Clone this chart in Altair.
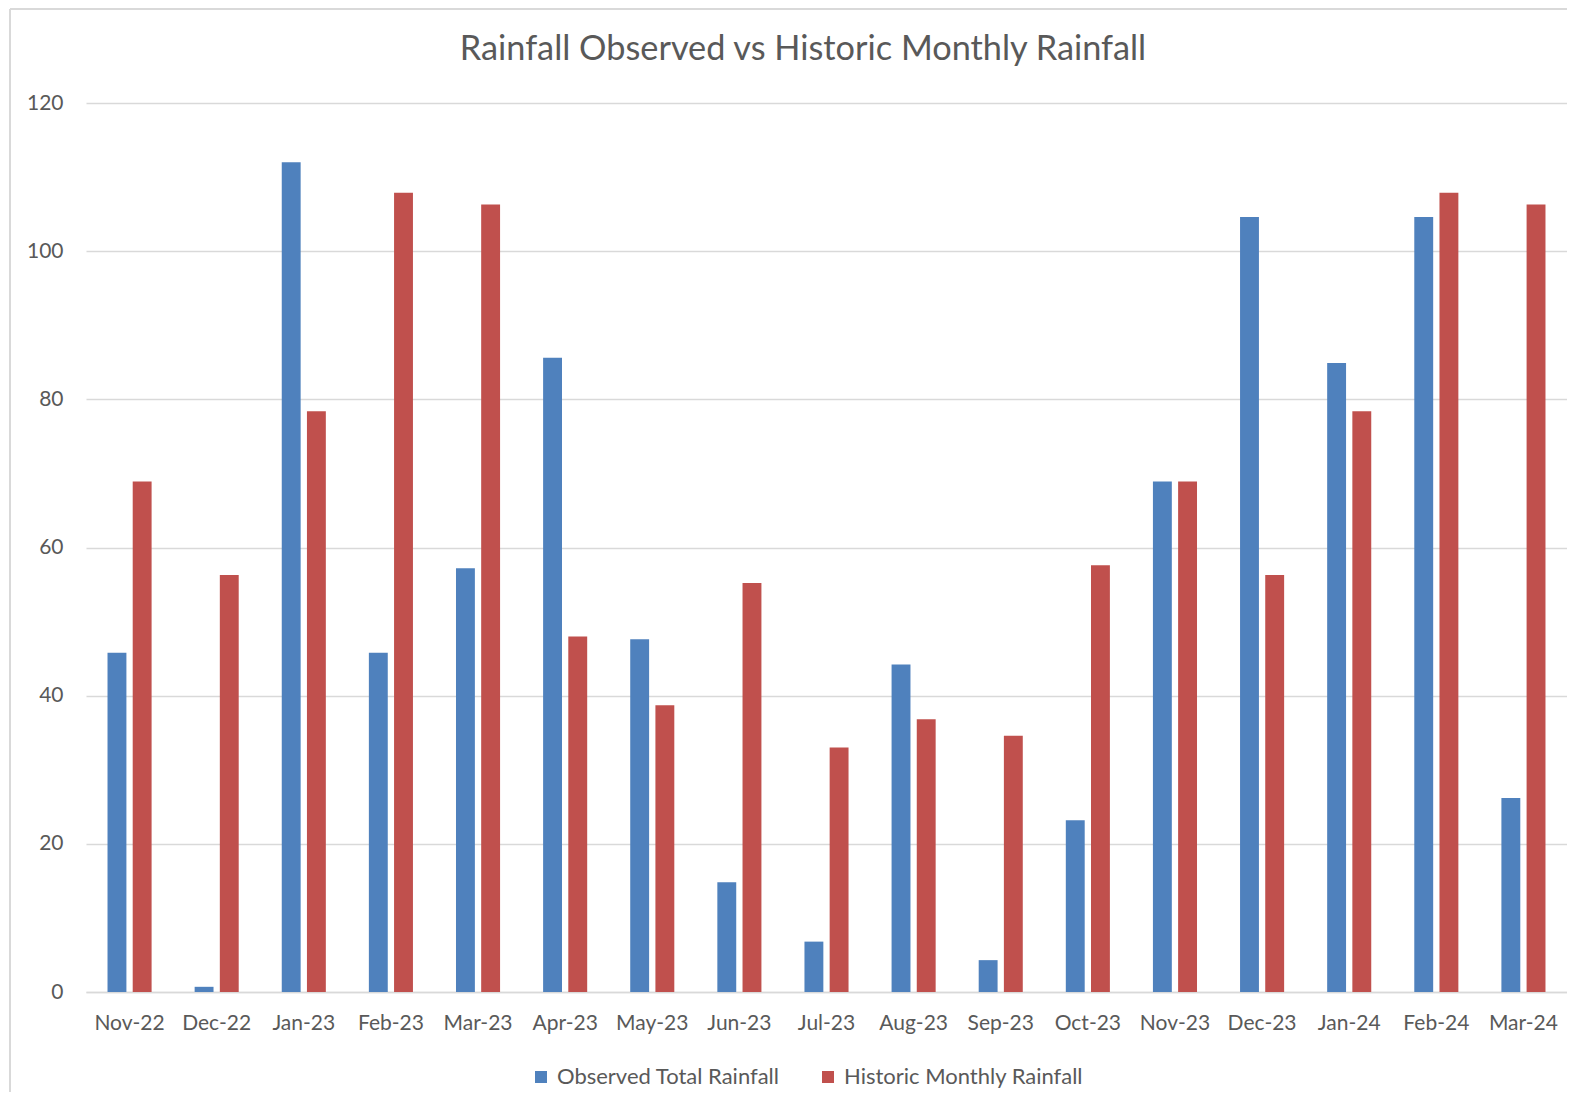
import altair as alt
import pandas as pd

months = ["Nov-22", "Dec-22", "Jan-23", "Feb-23", "Mar-23", "Apr-23", "May-23", "Jun-23",
          "Jul-23", "Aug-23", "Sep-23", "Oct-23", "Nov-23", "Dec-23", "Jan-24", "Feb-24", "Mar-24"]
observed = [45.8, 0.7, 112.0, 45.8, 57.2, 85.6, 47.6, 14.8, 6.8, 44.2, 4.3, 23.2, 68.9, 104.6, 84.9, 104.6, 26.2]
historic = [68.9, 56.3, 78.4, 107.9, 106.3, 48.0, 38.7, 55.2, 33.0, 36.8, 34.6, 57.6, 68.9, 56.3, 78.4, 107.9, 106.3]
series = ["Observed Total Rainfall", "Historic Monthly Rainfall"]
colors = ["#4F81BD", "#C0504D"]
title_text = ["Rainfall Observed vs Historic Monthly Rainfall"]

rows = []
for m, o, h in zip(months, observed, historic):
    rows.append({"Month": m, "Series": series[0], "Value": o})
    rows.append({"Month": m, "Series": series[1], "Value": h})
df = pd.DataFrame(rows)

FONT = "Lato"
TXT = "#595959"
GRID = "#D9D9D9"

bars = alt.Chart(df).mark_bar().encode(
    x=alt.X("Month:N", sort=months,
            scale=alt.Scale(paddingInner=0.494, paddingOuter=0.247),
            axis=alt.Axis(title=None, labelAngle=0, ticks=False, domainColor=GRID,
                          domainWidth=1.5, labelFontSize=21, labelColor=TXT,
                          labelFont=FONT, labelPadding=20, grid=False)),
    xOffset=alt.XOffset("Series:N", sort=series,
                        scale=alt.Scale(paddingInner=0.25, paddingOuter=0)),
    y=alt.Y("Value:Q", scale=alt.Scale(domain=[0, 120], nice=False),
            axis=alt.Axis(title=None, values=[0, 20, 40, 60, 80, 100, 120], ticks=False,
                          domain=False, gridColor=GRID, gridWidth=1.5,
                          labelFontSize=21, labelColor=TXT, labelFont=FONT,
                          labelPadding=23)),
    color=alt.Color("Series:N", sort=series,
                    scale=alt.Scale(domain=series, range=colors),
                    legend=alt.Legend(title=None, orient="none", direction="horizontal",
                                      legendX=444, legendY=963, symbolType="square",
                                      symbolSize=144, symbolStrokeWidth=0,
                                      labelFontSize=22, labelColor=TXT, labelFont=FONT,
                                      labelOffset=5, columnPadding=37, labelLimit=0)),
)

frame_left = alt.Chart(df).mark_rule(color=GRID, strokeWidth=2).encode(
    x=alt.value(-76), y=alt.value(-94), y2=alt.value(1020))
frame_top = alt.Chart(df).mark_rule(color=GRID, strokeWidth=2).encode(
    x=alt.value(-76), x2=alt.value(1500), y=alt.value(-94))

title = alt.Chart(pd.DataFrame({"t": title_text})).mark_text(
    font=FONT, fontSize=34.3, color=TXT, align="center", baseline="middle"
).encode(text="t:N", x=alt.value(717), y=alt.value(-53))

chart = alt.layer(frame_left, frame_top, bars, title).properties(
    width=1481, height=889,
    autosize=alt.AutoSizeParams(type="none"),
    padding={"left": 78, "top": 95, "right": 0, "bottom": 100},
).configure_view(stroke=None)

chart.save("out.html", embed_options={"renderer": "svg", "actions": False})
